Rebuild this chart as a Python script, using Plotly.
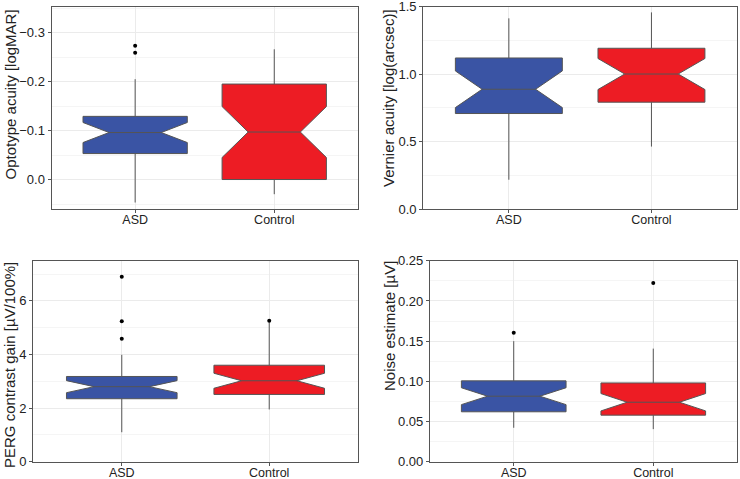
import plotly.graph_objects as go

groups = ["ASD", "Control"]
colors = ["#3A54A4", "#ED1C24"]

# Panel 1: Optotype acuity [logMAR]
opt_q1 = [-0.129, -0.195]
opt_median = [-0.096, -0.097]
opt_q3 = [-0.053, 0.0]
opt_low = [-0.205, -0.266]
opt_high = [0.047, 0.030]
opt_notch = [0.0205, 0.052]
opt_out_x = ["ASD", "ASD"]
opt_out_y = [-0.273, -0.259]

# Panel 2: Vernier acuity [log(arcsec)]
ver_q1 = [0.708, 0.792]
ver_median = [0.888, 1.001]
ver_q3 = [1.120, 1.192]
ver_low = [0.217, 0.463]
ver_high = [1.414, 1.458]
ver_notch = [0.136, 0.115]
ver_out_x = []
ver_out_y = []

# Panel 3: PERG contrast gain [µV/100%]
perg_q1 = [2.35, 2.51]
perg_median = [2.80, 3.02]
perg_q3 = [3.18, 3.60]
perg_low = [1.10, 1.95]
perg_high = [3.99, 5.20]
perg_notch = [0.225, 0.28]
perg_out_x = ["ASD", "ASD", "ASD", "Control"]
perg_out_y = [6.90, 5.24, 4.59, 5.26]

# Panel 4: Noise estimate [µV]
noise_q1 = [0.0621, 0.0579]
noise_median = [0.0815, 0.0740]
noise_q3 = [0.1006, 0.0980]
noise_low = [0.0422, 0.0405]
noise_high = [0.150, 0.1407]
noise_notch = [0.0105, 0.0108]
noise_out_x = ["ASD", "Control"]
noise_out_y = [0.1606, 0.2223]

panels = [
    dict(q1=opt_q1, med=opt_median, q3=opt_q3, lo=opt_low, hi=opt_high, notch=opt_notch,
         ox=opt_out_x, oy=opt_out_y, title="Optotype acuity [logMAR]",
         yrange=[0.0596, -0.353], dtick=0.1, fmt=".1f",
         xdom=[51.7, 357.7], ydom=[6.7, 208.7], tpos=(10, 94.5)),
    dict(q1=ver_q1, med=ver_median, q3=ver_q3, lo=ver_low, hi=ver_high, notch=ver_notch,
         ox=ver_out_x, oy=ver_out_y, title="Vernier acuity [log(arcsec)]",
         yrange=[0, 1.5002], dtick=0.5, fmt=".1f",
         xdom=[423.3, 737], ydom=[6.7, 209], tpos=(388.5, 98.5)),
    dict(q1=perg_q1, med=perg_median, q3=perg_q3, lo=perg_low, hi=perg_high, notch=perg_notch,
         ox=perg_out_x, oy=perg_out_y, title="PERG contrast gain [µV/100%]",
         yrange=[0, 7.5], dtick=2, fmt="d",
         xdom=[33.3, 357.7], ydom=[260.7, 461.7], tpos=(9, 365)),
    dict(q1=noise_q1, med=noise_median, q3=noise_q3, lo=noise_low, hi=noise_high, notch=noise_notch,
         ox=noise_out_x, oy=noise_out_y, title="Noise estimate [µV]",
         yrange=[0, 0.2501], dtick=0.05, fmt=".2f",
         xdom=[430, 737], ydom=[260.7, 461.7], tpos=(389.5, 326.5)),
]

W, H = 740, 479
fig = go.Figure()
layout = {}
annotations = []
for i, p in enumerate(panels):
    n = "" if i == 0 else str(i + 1)
    xa, ya = "x" + n, "y" + n
    for g in range(2):
        fig.add_trace(go.Box(
            x=[groups[g]], q1=[p["q1"][g]], median=[p["med"][g]], q3=[p["q3"][g]],
            lowerfence=[p["lo"][g]], upperfence=[p["hi"][g]], notchspan=[p["notch"][g]],
            notched=True, notchwidth=0.25, width=0.75, whiskerwidth=0,
            fillcolor=colors[g], line=dict(color="#555555", width=1),
            boxpoints=False, showlegend=False, xaxis=xa, yaxis=ya, hoverinfo="skip"))
    if p["ox"]:
        fig.add_trace(go.Scatter(
            x=p["ox"], y=p["oy"], mode="markers",
            marker=dict(color="black", size=4), showlegend=False,
            xaxis=xa, yaxis=ya, hoverinfo="skip"))
    x0, x1 = p["xdom"]
    y0, y1 = p["ydom"]
    layout["xaxis" + n] = dict(
        domain=[x0 / W, x1 / W], anchor=ya, automargin=False,
        type="category", categoryorder="array", categoryarray=groups,
        range=[-0.6, 1.6], showline=True, mirror=True, linecolor="#555555", linewidth=1.3,
        showgrid=True, gridcolor="#EBEBEB", gridwidth=1,
        ticks="outside", ticklen=3, tickcolor="#555555", ticklabelstandoff=-4,
        tickfont=dict(size=12.5, color="#222222"), zeroline=False)
    layout["yaxis" + n] = dict(
        domain=[1 - y1 / H, 1 - y0 / H], anchor=xa, automargin=False,
        range=p["yrange"], dtick=p["dtick"], tickformat=p["fmt"],
        showline=True, mirror=True, linecolor="#555555", linewidth=1.3,
        showgrid=True, gridcolor="#EBEBEB", gridwidth=1,
        minor=dict(dtick=p["dtick"] / 2, showgrid=True, gridcolor="#F5F5F5", gridwidth=1),
        ticks="outside", ticklen=3, tickcolor="#555555", ticklabeloverflow="allow",
        tickfont=dict(size=13, color="#222222"), zeroline=False)
    annotations.append(dict(
        text=p["title"], textangle=-90, showarrow=False,
        xref="paper", yref="paper", x=p["tpos"][0] / W, y=1 - p["tpos"][1] / H,
        xanchor="center", yanchor="middle",
        font=dict(size=15, color="#222222")))

fig.update_layout(
    width=W, height=H, margin=dict(l=0, r=0, t=0, b=0),
    paper_bgcolor="white", plot_bgcolor="white",
    font=dict(family="Liberation Sans, Arial, sans-serif"),
    annotations=annotations,
    **layout)
fig.write_html("out.html", config={"displayModeBar": False},
               post_script="document.body.style.margin='0';document.body.style.overflow='hidden';")
